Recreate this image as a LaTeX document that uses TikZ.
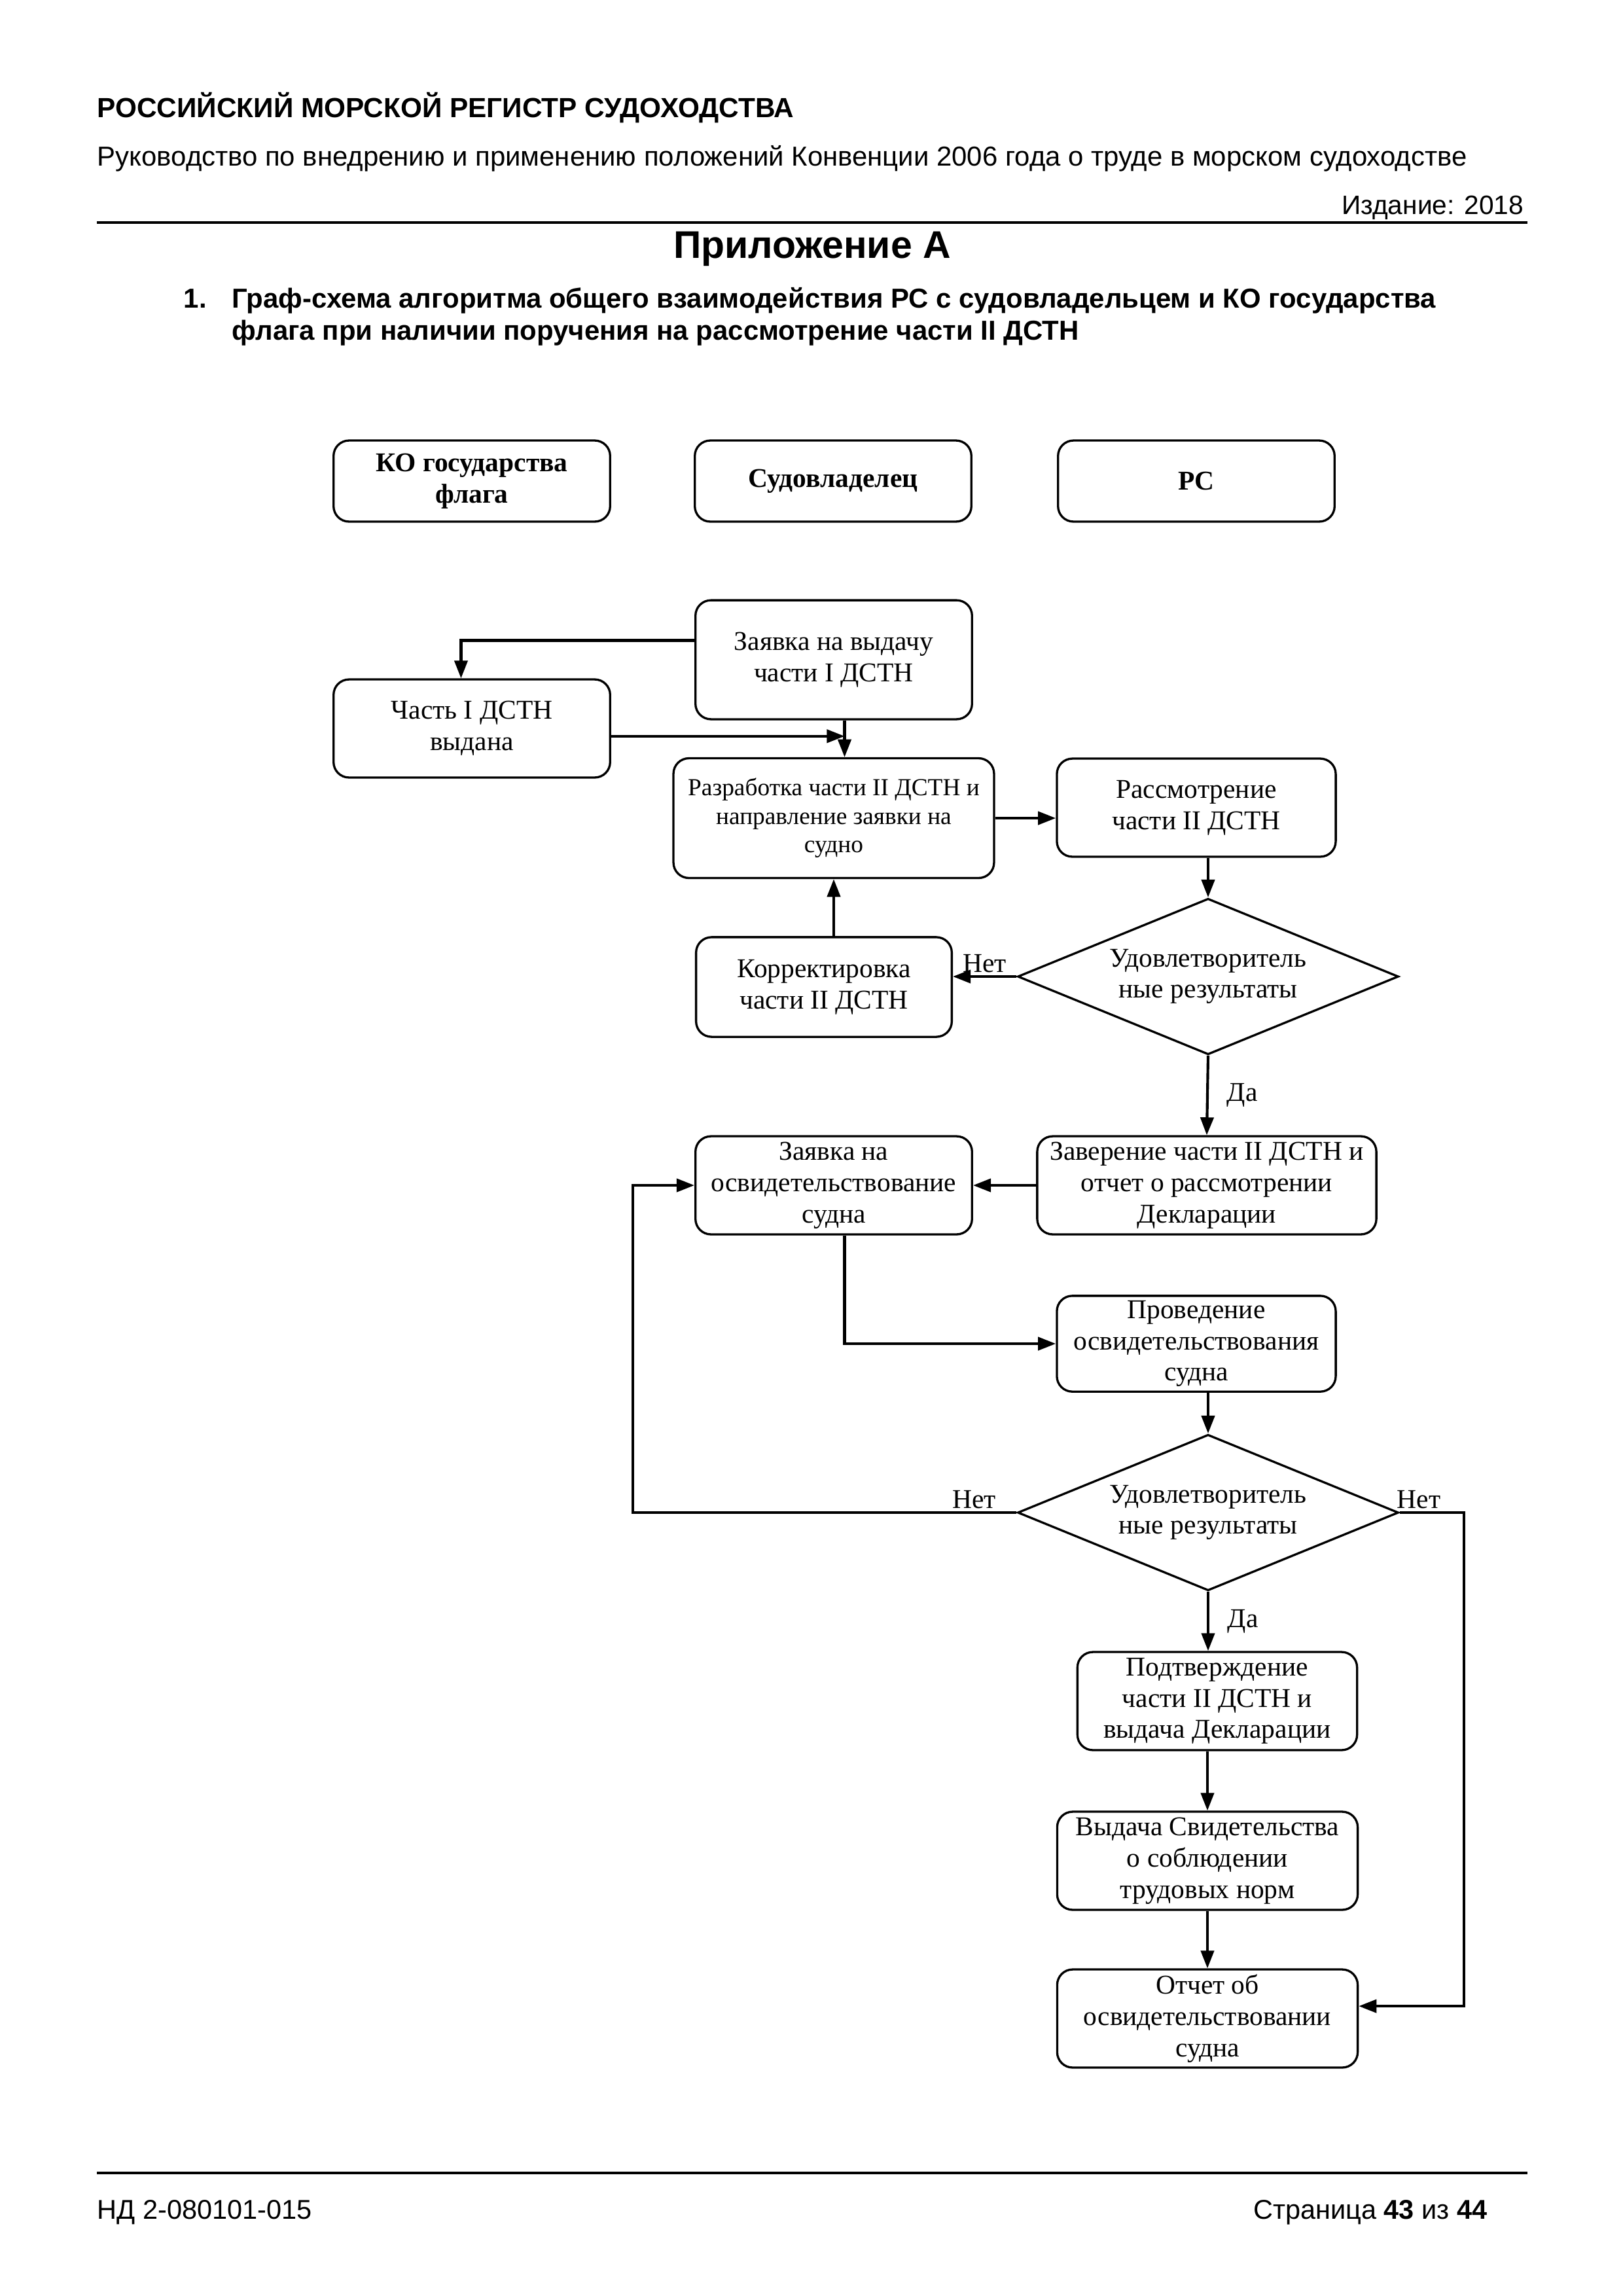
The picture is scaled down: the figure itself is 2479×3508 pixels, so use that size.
\documentclass[tikz,border=0pt]{standalone}
\usepackage{fontspec}
\setmainfont{Liberation Serif}
\newfontfamily\hdrfont{Liberation Sans}
\usetikzlibrary{shapes.geometric,arrows.meta}
\newcommand{\boxfont}{\fontsize{10}{11.5}\selectfont}
\newcommand{\hfont}[1]{\hdrfont\fontsize{#1}{#1}\selectfont}

\begin{document}
\begin{tikzpicture}[x=0.08471mm,y=-0.08471mm,
  blk/.style={draw,thick,rounded corners=2mm,align=center,inner sep=1pt,font=\boxfont},
  hd/.style={blk,font=\boxfont\bfseries,minimum width=35.8mm,minimum height=10.5mm},
  dec/.style={draw,thick,diamond,aspect=2.4,inner sep=0pt,minimum width=49.3mm,minimum height=20.2mm,align=center,font=\boxfont},
  arr/.style={-{Triangle[length=2.3mm,width=1.7mm]},line width=1pt},
  lbl/.style={font=\boxfont,inner sep=1pt}]
\useasboundingbox (0,0) rectangle (2479,3508);
% ---- NAGLOWEK ----
\node[anchor=base west,inner sep=0pt,font=\hfont{10.2}\bfseries] (org) at (148,179) {РОССИЙСКИЙ МОРСКОЙ РЕГИСТР СУДОХОДСТВА};
\node[anchor=base west,inner sep=0pt,font=\hfont{10.1}] (doc) at (148,253) {Руководство по внедрению и применению положений Конвенции 2006 года о труде в морском судоходстве};
\node[anchor=base east,inner sep=0pt,font=\hfont{9.8}] (ed) at (2329,327) {Издание: 2018};
\draw[line width=1pt] (148,340) -- (2334,340);
\node[anchor=base,inner sep=0pt,font=\hfont{14.2}\bfseries] (app) at (1241,394) {Приложение А};
\node[anchor=base west,inner sep=0pt,font=\hfont{10.1}\bfseries] (num) at (280,470) {1.};
\node[anchor=base west,inner sep=0pt,font=\hfont{10.1}\bfseries] (ttl1) at (354,470) {Граф-схема алгоритма общего взаимодействия РС с судовладельцем и КО государства};
\node[anchor=base west,inner sep=0pt,font=\hfont{10.1}\bfseries] (ttl2) at (354,519) {флага при наличии поручения на рассмотрение части II ДСТН};
% ---- UCZESTNICY ----
\node[hd] (ko) at (721,735) {КО государства\\флага};
\node[hd] (owner) at (1273,735) {Судовладелец};
\node[hd] (rs) at (1828,735) {РС};
% ---- BLOKI ----
\node[blk,minimum width=35.8mm,minimum height=15.4mm] (req1) at (1274,1008) {Заявка на выдачу\\части I ДСТН};
\node[blk,minimum width=35.8mm,minimum height=12.7mm] (part1) at (721,1113) {Часть I ДСТН\\выдана};
\node[blk,minimum width=41.5mm,minimum height=15.5mm,font=\fontsize{9}{10.5}\selectfont] (dev) at (1274,1250) {Разработка части II ДСТН и\\направление заявки на\\судно};
\node[blk,minimum width=36.1mm,minimum height=12.7mm] (review) at (1828,1234) {Рассмотрение\\части II ДСТН};
\node[dec] (d1) at (1846,1492) {Удовлетворитель\\ные результаты};
\node[blk,minimum width=33.1mm,minimum height=12.9mm] (corr) at (1259,1508) {Корректировка\\части II ДСТН};
\node[blk,minimum width=43.9mm,minimum height=12.7mm] (cert) at (1844,1811) {Заверение части II ДСТН и\\отчет о рассмотрении\\Декларации};
\node[blk,minimum width=35.8mm,minimum height=12.7mm] (req2) at (1274,1811) {Заявка на\\освидетельствование\\судна};
\node[blk,minimum width=36.1mm,minimum height=12.4mm] (surv) at (1828,2053) {Проведение\\освидетельствования\\судна};
\node[dec] (d2) at (1846,2311) {Удовлетворитель\\ные результаты};
\node[blk,minimum width=36.2mm,minimum height=12.7mm] (conf) at (1860,2599) {Подтверждение\\части II ДСТН и\\выдача Декларации};
\node[blk,minimum width=38.9mm,minimum height=12.7mm] (issue) at (1845,2843) {Выдача Свидетельства\\о соблюдении\\трудовых норм};
\node[blk,minimum width=38.9mm,minimum height=12.7mm] (report) at (1845,3084) {Отчет об\\освидетельствовании\\судна};
% ---- POLACZENIA ----
\coordinate (loopL) at (967,0);
\coordinate (loopR) at (2237,0);
\coordinate (r1o) at ([xshift=1.4mm]req1.south);
\coordinate (r2o) at ([xshift=1.4mm]req2.south);
\coordinate (p1o) at ([yshift=-1mm]part1.east);
\coordinate (p1in) at ([xshift=-1.4mm]part1.north);
\coordinate (rpin) at ([yshift=1.6mm]report.east);
\draw[arr] ([yshift=2.5mm]req1.west) -| (p1in);
\draw[arr] (r1o) -- (r1o |- dev.north);
\draw[arr] (p1o) -- (p1o -| r1o);
\draw[arr] (dev.east) -- (dev.east -| review.west);
\draw[arr] (d1.north |- review.south) -- (d1.north);
\draw[arr] (d1.west) -- node[lbl,above] {Нет} (d1.west -| corr.east);
\draw[arr] (dev.south |- corr.north) -- (dev.south);
\draw[arr] (d1.south) -- node[lbl,right=2mm] {Да} (cert.north);
\draw[arr] (cert.west) -- (req2.east);
\draw[arr] (r2o) |- (surv.west);
\draw[arr] (d2.north |- surv.south) -- (d2.north);
\draw[arr] (d2.west) -- node[lbl,above,pos=0.11] {Нет} (d2.west -| loopL) |- (req2.west);
\draw[arr] (d2.east) -- node[lbl,above,pos=0.3] {Нет} (d2.east -| loopR) |- (rpin);
\draw[arr] (d2.south) -- node[lbl,right=2mm] {Да} (d2.south |- conf.north);
\draw[arr] (issue.north |- conf.south) -- (issue.north);
\draw[arr] (issue.south) -- (report.north);
% ---- STOPKA ----
\draw[line width=1pt] (148,3320) -- (2334,3320);
\node[anchor=base west,inner sep=0pt,font=\hfont{10}] (nd) at (148,3390) {НД 2-080101-015};
\node[anchor=base east,inner sep=0pt,font=\hfont{10}] (pg) at (2273,3390) {Страница \textbf{43} из \textbf{44}};
\end{tikzpicture}
\end{document}
